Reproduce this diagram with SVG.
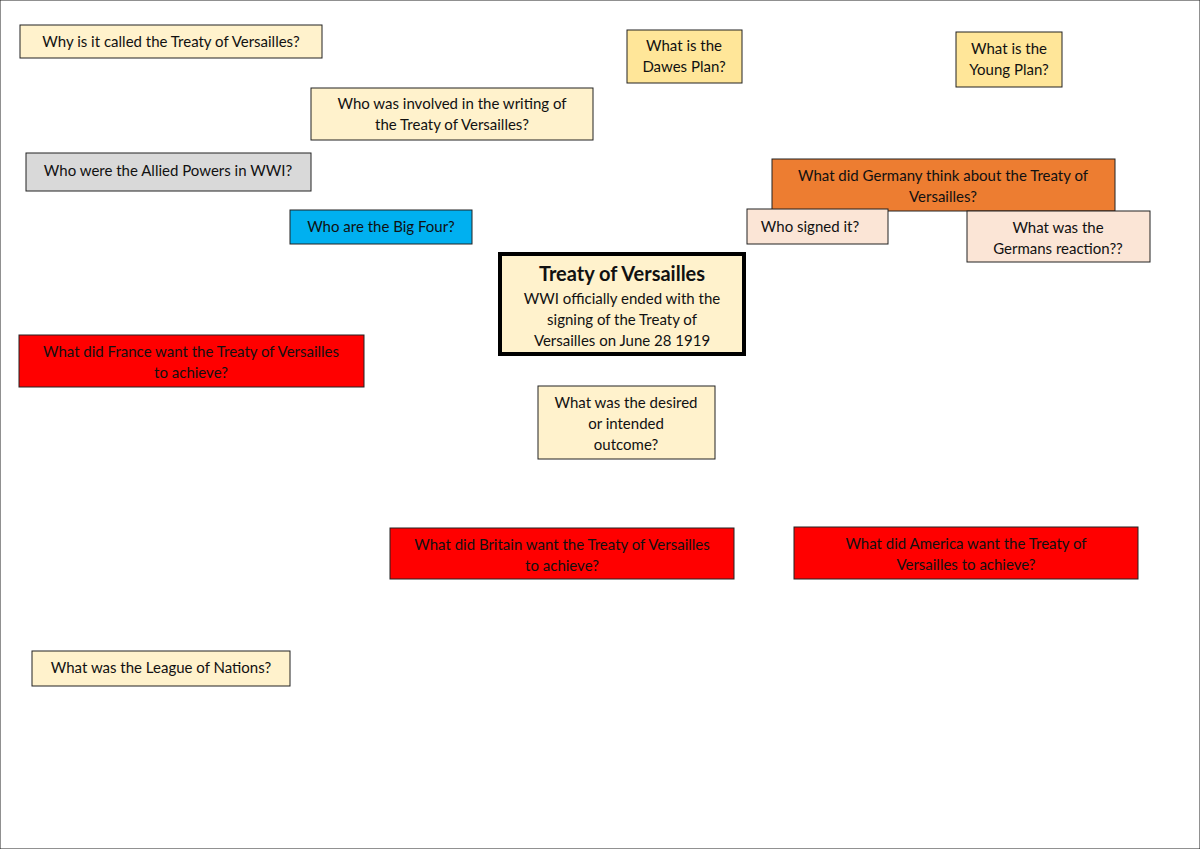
<svg xmlns="http://www.w3.org/2000/svg" width="1200" height="849" viewBox="0 0 1200 849">
<style>
rect{stroke:#222;stroke-width:1}
text{font-family:Lato,"Liberation Sans",sans-serif;font-size:15px;fill:#111;text-anchor:middle}
.c{fill:#fff2cc}.y{fill:#ffe699}.g{fill:#d9d9d9}.o{fill:#ed7d31}.b{fill:#00b0f0}.p{fill:#fbe5d6}.r{fill:#ff0000}
</style>
<rect width="1200" height="849" fill="#fff" stroke="none"/>
<g id="connectors"></g>
<g id="n1"><rect class="c" x="20" y="25" width="302" height="33"/><text x="171" y="47">Why is it called the Treaty of Versailles?</text></g>
<g id="n2"><rect class="y" x="627" y="30" width="115" height="53"/><text x="684" y="51">What is the</text><text x="684" y="72">Dawes Plan?</text></g>
<g id="n3"><rect class="y" x="956" y="32" width="106" height="55"/><text x="1009" y="54">What is the</text><text x="1009" y="75">Young Plan?</text></g>
<g id="n4"><rect class="c" x="311" y="88" width="282" height="52"/><text x="452" y="109">Who was involved in the writing of</text><text x="452" y="130">the Treaty of Versailles?</text></g>
<g id="n5"><rect class="g" x="26" y="153" width="285" height="38"/><text x="168" y="176">Who were the Allied Powers in WWI?</text></g>
<g id="n6"><rect class="o" x="772" y="159" width="343" height="52"/><text x="943" y="181">What did Germany think about the Treaty of</text><text x="943" y="202">Versailles?</text></g>
<g id="n7"><rect class="b" x="290" y="210" width="182" height="34"/><text x="381" y="232">Who are the Big Four?</text></g>
<g id="n8"><rect class="p" x="747" y="209" width="141" height="35"/><text x="810" y="232">Who signed it?</text></g>
<g id="n9"><rect class="p" x="967" y="211" width="183" height="51"/><text x="1058" y="233">What was the</text><text x="1058" y="254">Germans reaction??</text></g>
<g id="n10"><rect class="c" x="500" y="254" width="244" height="100" style="stroke:#000;stroke-width:4"/><text x="622" y="281" style="font-size:20px;font-weight:bold">Treaty of Versailles</text><text x="622" y="304">WWI officially ended with the</text><text x="622" y="325">signing of the Treaty of</text><text x="622" y="346">Versailles on June 28 1919</text></g>
<g id="n11"><rect class="r" x="19" y="335" width="345" height="52"/><text x="191" y="357">What did France want the Treaty of Versailles</text><text x="191" y="378">to achieve?</text></g>
<g id="n12"><rect class="c" x="538" y="386" width="177" height="73"/><text x="626" y="408">What was the desired</text><text x="626" y="429">or intended</text><text x="626" y="450">outcome?</text></g>
<g id="n13"><rect class="r" x="390" y="528" width="344" height="51"/><text x="562" y="550">What did Britain want the Treaty of Versailles</text><text x="562" y="571">to achieve?</text></g>
<g id="n14"><rect class="r" x="794" y="527" width="344" height="52"/><text x="966" y="549">What did America want the Treaty of</text><text x="966" y="570">Versailles to achieve?</text></g>
<g id="n15"><rect class="c" x="32" y="651" width="258" height="35"/><text x="161" y="673">What was the League of Nations?</text></g>
</svg>
